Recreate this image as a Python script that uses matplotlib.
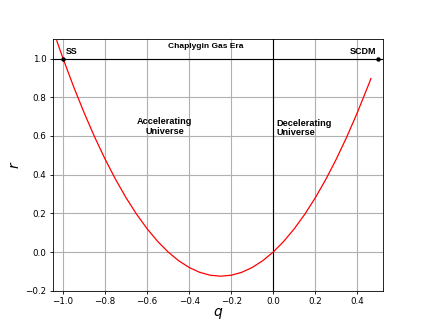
import matplotlib
matplotlib.use("Agg")
import matplotlib.pyplot as plt

# curve values
q_vals = [-1.03, -1.00, -0.95, -0.90, -0.85, -0.80, -0.75, -0.70, -0.65, -0.60,
          -0.55, -0.50, -0.45, -0.40, -0.35, -0.30, -0.25, -0.20, -0.15, -0.10,
          -0.05, 0.00, 0.05, 0.10, 0.15, 0.20, 0.25, 0.30, 0.35, 0.40, 0.45, 0.465]
r_vals = [1.092, 1.000, 0.855, 0.720, 0.595, 0.480, 0.375, 0.280, 0.195, 0.120,
          0.055, 0.000, -0.045, -0.080, -0.105, -0.120, -0.125, -0.120, -0.105, -0.080,
          -0.045, 0.000, 0.055, 0.120, 0.195, 0.280, 0.375, 0.480, 0.595, 0.720, 0.855, 0.897]

point_q = [-1.0, 0.5]
point_r = [1.0, 1.0]
point_labels = ["SS", "SCDM"]

x_ticks = [-1.0, -0.8, -0.6, -0.4, -0.2, 0.0, 0.2, 0.4]
y_ticks = [-0.2, 0.0, 0.2, 0.4, 0.6, 0.8, 1.0]

ann_font = ["Liberation Sans", "DejaVu Sans"]

fig = plt.figure(figsize=(4.25, 3.27), dpi=100)
ax = fig.add_axes([0.1247, 0.111, 0.7753, 0.769])

ax.grid(True, color="#b0b0b0", linewidth=0.8)
ax.set_axisbelow(True)
ax.axhline(1.0, color="black", linewidth=0.8)
ax.axvline(0.0, color="black", linewidth=0.8)
ax.plot(q_vals, r_vals, color="red", linewidth=0.9)
ax.plot(point_q, point_r, "o", color="black", markersize=2.2, clip_on=False, zorder=5)

ax.text(-0.988, 1.012, point_labels[0], fontsize=6.3, fontweight="bold", family=ann_font,
        ha="left", va="bottom")
ax.text(0.492, 1.012, point_labels[1], fontsize=6.5, fontweight="bold", family=ann_font,
        ha="right", va="bottom")
ax.text(-0.32, 1.063, "Chaplygin Gas Era", fontsize=6.0, fontweight="bold", family=ann_font,
        ha="center", va="center")
ax.text(-0.517, 0.648, "Accelerating\nUniverse", fontsize=6.6, fontweight="bold", family=ann_font,
        ha="center", va="center", multialignment="center", linespacing=1.05)
ax.text(0.017, 0.641, "Decelerating\nUniverse", fontsize=6.6, fontweight="bold", family=ann_font,
        ha="left", va="center", multialignment="left", linespacing=1.05)

ax.set_xlim(-1.048, 0.52)
ax.set_ylim(-0.2, 1.1)
ax.set_xticks(x_ticks)
ax.set_yticks(y_ticks)
ax.tick_params(labelsize=6.3, length=2.3, width=0.6, pad=2.5)
for s in ax.spines.values():
    s.set_linewidth(0.6)
ax.set_xlabel("$q$", fontsize=10, labelpad=0)
ax.set_ylabel("$r$", fontsize=10, labelpad=2)

fig.savefig("out.png", dpi=100)
